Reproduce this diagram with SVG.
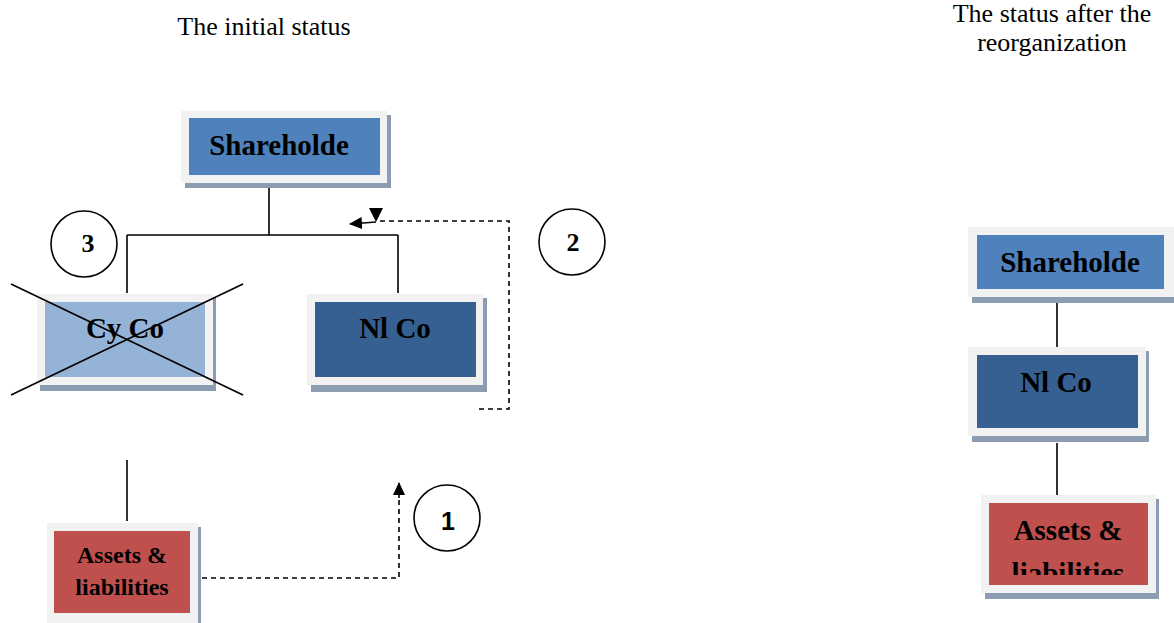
<svg xmlns="http://www.w3.org/2000/svg" width="1174" height="623" viewBox="0 0 1174 623">
<style>
.frame{fill:#F2F2F2}
.shadow{fill:#8C9DB2}
.line{stroke:#000;stroke-width:1.6;fill:none}
.dash{stroke:#000;stroke-width:1.6;fill:none;stroke-dasharray:5 4}
.circ{fill:#fff;stroke:#000;stroke-width:1.6}
</style>
<defs>
<marker id="arr" markerWidth="13" markerHeight="12" refX="12" refY="6" orient="auto" markerUnits="userSpaceOnUse">
<path d="M0,0 L13,6 L0,12 Z" fill="#000"/>
</marker>
<clipPath id="clipA"><rect x="989" y="503" width="159" height="72"/></clipPath>
</defs>

<g font-family="Liberation Serif, Times New Roman, serif" font-size="26" text-anchor="middle" fill="#000">
<text x="264" y="35">The initial status</text>
<text x="1052" y="22">The status after the</text>
<text x="1052" y="51">reorganization</text>
</g>

<g id="connectors">
<path class="line" d="M269,183 V235 M127,235 H398 M127,235 V293 M398,235 V293"/>
<path class="line" d="M127,460 V521"/>
<path class="dash" d="M193,578 H399 V497"/>
<line class="line" x1="399" y1="498" x2="399" y2="483" marker-end="url(#arr)"/>
<path class="dash" d="M479,409 H509 V221 H380"/>
<polygon points="369,208 383,208 376,222" fill="#000"/>
<line class="line" x1="376" y1="222" x2="350" y2="224" marker-end="url(#arr)"/>
<path class="line" d="M1057,300 V347 M1057,443 V495"/>
</g>

<g id="shareholder-left">
<rect class="shadow" x="185" y="115" width="206" height="73"/>
<rect class="frame" x="181" y="111" width="206" height="72"/>
<rect x="189" y="118" width="191" height="57" fill="#4F81BD"/>
<text x="279" y="155" font-family="Liberation Serif, Times New Roman, serif" font-size="29" font-weight="bold" text-anchor="middle" fill="#000">Shareholde</text>
</g>

<g id="cyco">
<rect class="shadow" x="40" y="298" width="176" height="93"/>
<rect class="frame" x="37" y="294" width="176" height="91"/>
<rect x="45" y="302" width="160" height="75" fill="#95B3D7"/>
<text x="125" y="338" font-family="Liberation Serif, Times New Roman, serif" font-size="29" font-weight="bold" text-anchor="middle" fill="#000">Cy Co</text>
<line class="line" x1="11" y1="284" x2="243" y2="395"/>
<line class="line" x1="11" y1="395" x2="243" y2="284"/>
</g>

<g id="nlco-left">
<rect class="shadow" x="311" y="298" width="176" height="94"/>
<rect class="frame" x="307" y="294" width="176" height="91"/>
<rect x="315" y="302" width="161" height="75" fill="#366092"/>
<text x="395" y="338" font-family="Liberation Serif, Times New Roman, serif" font-size="29" font-weight="bold" text-anchor="middle" fill="#000">Nl Co</text>
</g>

<g id="assets-left">
<rect class="shadow" x="51" y="527" width="150" height="96"/>
<rect class="frame" x="47" y="523" width="151" height="100"/>
<rect x="54" y="531" width="136" height="82" fill="#C0504D"/>
<g font-family="Liberation Serif, Times New Roman, serif" font-size="24" font-weight="bold" text-anchor="middle" fill="#000">
<text x="122" y="563">Assets &amp;</text>
<text x="122" y="595">liabilities</text>
</g>
</g>

<g id="circle-3">
<circle class="circ" cx="84" cy="244" r="33"/>
<text x="88" y="252" font-family="Liberation Serif, Times New Roman, serif" font-size="26" font-weight="bold" text-anchor="middle" fill="#000">3</text>
</g>
<g id="circle-2">
<circle class="circ" cx="572" cy="242" r="33"/>
<text x="573" y="251" font-family="Liberation Serif, Times New Roman, serif" font-size="26" font-weight="bold" text-anchor="middle" fill="#000">2</text>
</g>
<g id="circle-1">
<circle class="circ" cx="447" cy="518" r="33"/>
<text x="448" y="530" font-family="Liberation Sans, Arial, sans-serif" font-size="25" font-weight="bold" text-anchor="middle" fill="#000">1</text>
</g>

<g id="shareholder-right">
<rect class="shadow" x="972" y="231" width="204" height="72"/>
<rect class="frame" x="968" y="227" width="206" height="70"/>
<rect x="977" y="235" width="187" height="54" fill="#4F81BD"/>
<text x="1070" y="272" font-family="Liberation Serif, Times New Roman, serif" font-size="29" font-weight="bold" text-anchor="middle" fill="#000">Shareholde</text>
</g>

<g id="nlco-right">
<rect class="shadow" x="972" y="351" width="177" height="91"/>
<rect class="frame" x="968" y="347" width="178" height="89"/>
<rect x="977" y="355" width="161" height="73" fill="#366092"/>
<text x="1056" y="392" font-family="Liberation Serif, Times New Roman, serif" font-size="29" font-weight="bold" text-anchor="middle" fill="#000">Nl Co</text>
</g>

<g id="assets-right">
<rect class="shadow" x="985" y="499" width="174" height="100"/>
<rect class="frame" x="981" y="495" width="175" height="98"/>
<rect x="989" y="503" width="159" height="82" fill="#C0504D"/>
<g font-family="Liberation Serif, Times New Roman, serif" font-size="29" font-weight="bold" text-anchor="middle" fill="#000">
<text x="1068" y="540">Assets &amp;</text>
<text x="1068" y="583" clip-path="url(#clipA)">liabilities</text>
</g>
</g>
</svg>
